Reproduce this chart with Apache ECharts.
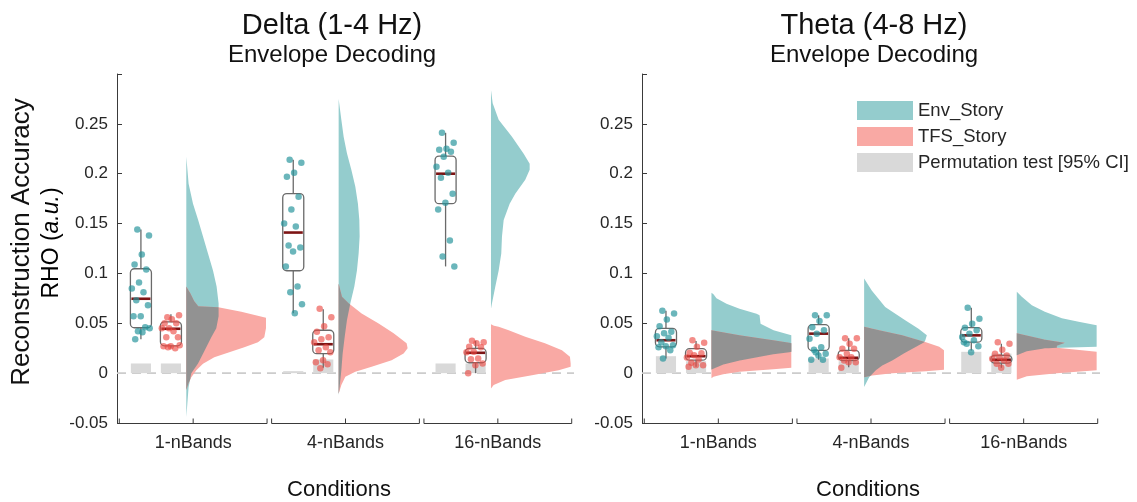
<!DOCTYPE html>
<html><head><meta charset="utf-8">
<script src="https://cdn.jsdelivr.net/npm/echarts@6/dist/echarts.min.js"></script>
<style>html,body{margin:0;padding:0;background:#fff}#c{width:1137px;height:502px}</style>
</head><body><div id="c"></div>
<script>
// ---------------- DATA ----------------
const categories = ['1-nBands', '4-nBands', '16-nBands'];
const panelTitles = ['Delta (1-4 Hz)', 'Theta (4-8 Hz)'];
const panelSubtitles = ['Envelope Decoding', 'Envelope Decoding'];
const seriesNames = ['Env_Story', 'TFS_Story', 'Permutation test [95% CI]'];

// individual subject values (RHO)
const deltaEnvPoints = [
  [0.144,0.138,0.119,0.109,0.104,0.091,0.085,0.081,0.073,0.068,0.057,0.057,0.046,0.042,0.045,0.041,0.034],
  [0.214,0.211,0.201,0.197,0.177,0.164,0.150,0.147,0.128,0.126,0.122,0.107,0.087,0.081,0.069,0.060],
  [0.241,0.231,0.225,0.224,0.222,0.217,0.207,0.201,0.196,0.180,0.171,0.164,0.133,0.117,0.107]
];
const deltaTfsPoints = [
  [0.056,0.058,0.054,0.050,0.050,0.045,0.045,0.042,0.036,0.036,0.027,0.027,0.025,0.026,0.028],
  [0.0645,0.056,0.047,0.0415,0.036,0.034,0.031,0.026,0.023,0.021,0.013,0.011,0.009,0.005],
  [0.0324,0.031,0.030,0.0264,0.026,0.0214,0.021,0.0147,0.014,0.0097,0.008,0.0]
];
const thetaEnvPoints = [
  [0.0625,0.0599,0.0539,0.047,0.0415,0.040,0.037,0.0355,0.031,0.028,0.027,0.026,0.023,0.0147],
  [0.058,0.058,0.0522,0.046,0.043,0.0396,0.0345,0.026,0.0235,0.0195,0.0178,0.0135,0.0135,0.021],
  [0.0657,0.0546,0.0496,0.0456,0.0429,0.0396,0.0362,0.033,0.0295,0.027,0.021,0.031]
];
const thetaTfsPoints = [
  [0.033,0.0304,0.0264,0.0204,0.020,0.018,0.0157,0.0137,0.0104,0.008,0.008,0.0064],
  [0.035,0.035,0.0295,0.0245,0.0245,0.0195,0.016,0.016,0.0127,0.011,0.011,0.0054],
  [0.031,0.0295,0.0235,0.0195,0.0178,0.016,0.0144,0.0127,0.0094,0.0094,0.0054]
];

// box statistics: [lower whisker, Q1, median, Q3, upper whisker]
const deltaEnvBox = [[0.034,0.0455,0.0746,0.1047,0.144],[0.060,0.1027,0.141,0.180,0.214],[0.107,0.170,0.200,0.2177,0.241]];
const deltaTfsBox = [[0.025,0.0274,0.0445,0.0515,0.059],[0.0053,0.0195,0.029,0.043,0.064],[0.0,0.0104,0.0204,0.0248,0.0324]];
const thetaEnvBox = [[0.0147,0.0264,0.033,0.0449,0.0625],[0.0135,0.0228,0.0396,0.0486,0.058],[0.0228,0.0311,0.0379,0.0456,0.0657]];
const thetaTfsBox = [[0.0064,0.013,0.017,0.0245,0.0323],[0.006,0.0127,0.0154,0.0228,0.035],[0.0054,0.010,0.0134,0.0178,0.0295]];

// permutation test upper 95% CI
const deltaEnvPerm = [0.0097, 0.002, 0.0097];
const deltaTfsPerm = [0.0097, 0.0137, 0.0097];
const thetaEnvPerm = [0.017, 0.0147, 0.0214];
const thetaTfsPerm = [0.012, 0.012, 0.0196];

// density profiles read from the half-violins: [RHO, density (a.u.)]
const deltaEnvDensity = [
  [[0.217,0],[0.19,2.3],[0.17,6.7],[0.154,11.7],[0.137,16.7],[0.12,21.7],[0.103,26.7],[0.087,30.3],[0.07,32.3],[0.057,32.3],[0.045,30],[0.036,25],[0.0195,16.7],[0.0097,11.7],[0,5],[-0.014,2.3],[-0.031,1],[-0.044,0]],
  [[0.275,0],[0.254,2.7],[0.237,5],[0.2205,8.3],[0.204,12.7],[0.187,16.7],[0.17,19.3],[0.1535,20.7],[0.137,21],[0.12,20],[0.103,18.3],[0.087,15.7],[0.07,11.7],[0.053,8.3],[0.036,6],[0.0195,4],[0.003,2.7],[-0.014,1],[-0.022,0]],
  [[0.284,0],[0.2706,1.7],[0.254,7.7],[0.237,21],[0.22,32.7],[0.21,38.7],[0.204,38.7],[0.194,34.3],[0.18,24.3],[0.17,18.7],[0.1536,12.7],[0.137,11],[0.12,10.3],[0.103,7.7],[0.0866,4.3],[0.07,1],[0.0647,0]]
];
const deltaTfsDensity = [
  [[0.087,0],[0.08,4],[0.072,8],[0.067,12],[0.066,32],[0.0615,55],[0.0555,80],[0.051,80],[0.045,80],[0.036,78],[0.031,71.7],[0.026,58],[0.021,43],[0.016,28],[0.0095,16.7],[0.003,10],[-0.004,5],[-0.01,2.3],[-0.017,0]],
  [[0.09,0],[0.0766,3.3],[0.07,10],[0.0597,23],[0.0499,40],[0.04,55],[0.03,68],[0.025,69],[0.0197,65],[0.013,53],[0.0063,33],[0.0013,16.7],[-0.0037,6.7],[-0.012,2.7],[-0.0206,0]],
  [[0.049,0],[0.0475,3],[0.0465,7.7],[0.043,17.7],[0.0365,34.3],[0.03,54],[0.023,71],[0.0164,79],[0.0097,80],[0.0063,80],[0.003,67.7],[-0.002,41],[-0.007,14.3],[-0.012,2.7],[-0.0155,0]]
];
const thetaEnvDensity = [
  [[0.0806,0],[0.079,2],[0.075,5],[0.0696,15],[0.0646,28],[0.0596,45],[0.058,48],[0.0496,49],[0.043,62],[0.038,81],[0.03,90],[0.0214,81],[0.019,61.7],[0.0127,28],[0.0087,11.7],[0.0037,0]],
  [[0.0948,0],[0.083,7.6],[0.0663,21],[0.053,41],[0.0446,54.3],[0.038,62.6],[0.0328,61],[0.031,60],[0.0264,51.7],[0.02,40],[0.0127,28],[0.0077,18],[0.003,11.7],[-0.004,5],[-0.014,0]],
  [[0.0816,0],[0.0766,5],[0.068,15],[0.0615,28],[0.055,45],[0.0515,61.7],[0.048,81],[0.0264,81],[0.0249,28],[0.022,10],[0.018,0]]
];
const thetaTfsDensity = [
  [[0.043,0],[0.038,28],[0.033,61.7],[0.03,81],[0.0054,81],[0.004,61.7],[0.0013,28],[-0.001,11.7],[-0.0037,2],[-0.005,0]],
  [[0.0465,0],[0.043,15],[0.038,38],[0.031,61.7],[0.0264,75],[0.023,81],[0.0034,81],[0.002,61.7],[0,28],[-0.0023,8],[-0.004,0]],
  [[0.04,0],[0.0336,28],[0.0304,48],[0.0275,40],[0.0255,40],[0.024,55],[0.0214,81],[0.003,81],[0,40],[-0.003,10],[-0.0066,0]]
];

// ---------------- LAYOUT / STYLE ----------------
const FONT = "'Liberation Sans', Arial, Helvetica, sans-serif";
const Y_MIN = -0.05, Y_MAX = 0.3, Y_STEP = 0.05;
const X_MIN = 0, X_MAX = 3;
const ENV_OFF = 0.157, TFS_OFF = 0.354, VIO_OFF = 0.455;
const BOX_HW = 0.069, PERM_HW = 0.066;
const DENS_SCALE = 1 / 152.4;   // category units per density unit
const VIO_MAX = 0.523;          // clip width of half-violins (category units)
const C_ENV = '#94cccd', C_TFS = '#f9a9a4', C_OVER = '#929292', C_PERM = '#d9d9d9';
const C_ENV_DOT = 'rgba(38,148,156,0.85)', C_TFS_DOT = 'rgba(236,72,66,0.78)';
const AXIS_C = '#3a3a3a', TXT_C = '#262626';

const panels = [
  {env: deltaEnvPoints, tfs: deltaTfsPoints, envBox: deltaEnvBox, tfsBox: deltaTfsBox,
   envPerm: deltaEnvPerm, tfsPerm: deltaTfsPerm, envD: deltaEnvDensity, tfsD: deltaTfsDensity},
  {env: thetaEnvPoints, tfs: thetaTfsPoints, envBox: thetaEnvBox, tfsBox: thetaTfsBox,
   envPerm: thetaEnvPerm, tfsPerm: thetaTfsPerm, envD: thetaEnvDensity, tfsD: thetaTfsDensity}
];

function interp(profile, v) {
  const n = profile.length;
  if (v > profile[0][0] || v < profile[n - 1][0]) return 0;
  for (let i = 0; i < n - 1; i++) {
    const a = profile[i], b = profile[i + 1];
    if (v <= a[0] && v >= b[0]) {
      const t = (a[0] - b[0]) === 0 ? 0 : (a[0] - v) / (a[0] - b[0]);
      return a[1] + (b[1] - a[1]) * t;
    }
  }
  return 0;
}
const wUnits = d => Math.min(d * DENS_SCALE, VIO_MAX);

function violinSeries(name, g, profiles, color, z) {
  return {
    type: 'custom', name, xAxisIndex: g * 2 + 1, yAxisIndex: g, z, silent: true,
    itemStyle: {color},
    data: profiles.map((p, i) => [i + VIO_OFF, 0]),
    encode: {x: 0, y: 1},
    renderItem(params, api) {
      const i = params.dataIndex, prof = profiles[i], base = i + VIO_OFF;
      const pts = [api.coord([base, prof[0][0]])];
      prof.forEach(([v, d]) => pts.push(api.coord([base + wUnits(d), v])));
      pts.push(api.coord([base, prof[prof.length - 1][0]]));
      return {type: 'polygon', shape: {points: pts}, style: {fill: color}};
    }
  };
}

function overlapSeries(g, envP, tfsP, z) {
  return {
    type: 'custom', name: 'overlap', xAxisIndex: g * 2 + 1, yAxisIndex: g, z, silent: true,
    data: envP.map((p, i) => [i + VIO_OFF, 0]),
    encode: {x: 0, y: 1},
    renderItem(params, api) {
      const i = params.dataIndex, e = envP[i], t = tfsP[i], base = i + VIO_OFF;
      const top = Math.min(e[0][0], t[0][0]);
      const bot = Math.max(e[e.length - 1][0], t[t.length - 1][0]);
      if (top <= bot) return null;
      let grid = [];
      e.concat(t).forEach(p => { if (p[0] <= top && p[0] >= bot) grid.push(p[0]); });
      for (let v = top; v >= bot; v -= 0.0005) grid.push(v);
      grid.push(top, bot);
      grid = Array.from(new Set(grid.map(v => Math.round(v * 1e6) / 1e6))).sort((a, b) => b - a);
      const pts = [api.coord([base, top])];
      grid.forEach(v => {
        const w = Math.min(wUnits(interp(e, v)), wUnits(interp(t, v)));
        pts.push(api.coord([base + w, v]));
      });
      pts.push(api.coord([base, bot]));
      return {type: 'polygon', shape: {points: pts}, style: {fill: C_OVER}};
    }
  };
}

function boxSeries(name, g, boxes, off, z) {
  return {
    type: 'custom', name, xAxisIndex: g * 2 + 1, yAxisIndex: g, z, silent: true,
    data: boxes.map((b, i) => [i + off].concat(b)),
    encode: {x: 0, y: [1, 2, 3, 4, 5]},
    renderItem(params, api) {
      const x = api.value(0), lo = api.value(1), q1 = api.value(2), med = api.value(3), q3 = api.value(4), hi = api.value(5);
      const pHi = api.coord([x, hi]), pQ3 = api.coord([x, q3]), pQ1 = api.coord([x, q1]), pLo = api.coord([x, lo]);
      const tl = api.coord([x - BOX_HW, q3]), br = api.coord([x + BOX_HW, q1]);
      const mL = api.coord([x - BOX_HW, med]), mR = api.coord([x + BOX_HW, med]);
      const ls = {stroke: '#6a6a6a', lineWidth: 1.3};
      return {type: 'group', children: [
        {type: 'line', shape: {x1: pHi[0], y1: pHi[1], x2: pQ3[0], y2: pQ3[1]}, style: ls},
        {type: 'line', shape: {x1: pQ1[0], y1: pQ1[1], x2: pLo[0], y2: pLo[1]}, style: ls},
        {type: 'rect', shape: {x: tl[0], y: tl[1], width: br[0] - tl[0], height: br[1] - tl[1], r: 4},
         style: {fill: 'rgba(255,255,255,0)', stroke: '#6a6a6a', lineWidth: 1.3}},
        {type: 'line', shape: {x1: mL[0] + 1, y1: mL[1], x2: mR[0] - 1, y2: mR[1]}, style: {stroke: '#7d1414', lineWidth: 2.6}}
      ]};
    }
  };
}

function permSeries(g, envPerm, tfsPerm, z) {
  const data = envPerm.map((v, i) => [i + ENV_OFF, v]).concat(tfsPerm.map((v, i) => [i + TFS_OFF, v]));
  return {
    type: 'custom', name: 'Permutation test [95% CI]', xAxisIndex: g * 2 + 1, yAxisIndex: g, z, silent: true,
    itemStyle: {color: C_PERM},
    data, encode: {x: 0, y: 1},
    renderItem(params, api) {
      const x = api.value(0), v = api.value(1);
      const a = api.coord([x - PERM_HW, v]), b = api.coord([x + PERM_HW, 0]);
      return {type: 'rect', shape: {x: a[0], y: a[1], width: b[0] - a[0], height: Math.max(b[1] - a[1], 1)}, style: {fill: C_PERM}};
    }
  };
}

function jitter(k) { return (((k * 0.618034 + 0.31) % 1) - 0.5) * 2 * BOX_HW * 0.9; }

function scatterSeries(name, g, pts, off, color, z) {
  const data = [];
  pts.forEach((arr, i) => arr.forEach((v, k) => data.push([i + off + jitter(k), v])));
  return {type: 'scatter', name, xAxisIndex: g * 2 + 1, yAxisIndex: g, z, silent: true,
    symbolSize: 6.5, itemStyle: {color}, data};
}

function bracketSeries(g, z) {
  return {
    type: 'custom', name: 'brackets', xAxisIndex: g * 2 + 1, yAxisIndex: g, z, silent: true,
    data: categories.map((c, i) => [i + 0.5, Y_MIN]), encode: {x: 0, y: 1},
    renderItem(params, api) {
      const x = api.value(0);
      const l = api.coord([x - 0.485, Y_MIN]), m = api.coord([x, Y_MIN]), r = api.coord([x + 0.485, Y_MIN]);
      const st = {stroke: AXIS_C, lineWidth: 1};
      const y = Math.round(l[1]) + 0.5;
      return {type: 'group', children: [
        {type: 'line', shape: {x1: l[0], y1: y, x2: r[0], y2: y}, style: st},
        {type: 'line', shape: {x1: l[0], y1: y, x2: l[0], y2: y - 5}, style: st},
        {type: 'line', shape: {x1: m[0], y1: y, x2: m[0], y2: y - 5}, style: st},
        {type: 'line', shape: {x1: r[0], y1: y, x2: r[0], y2: y - 5}, style: st}
      ]};
    }
  };
}

function zeroLine(g, z) {
  return {type: 'line', name: 'zero', xAxisIndex: g * 2 + 1, yAxisIndex: g, z, silent: true,
    symbol: 'none', data: [[X_MIN, 0], [X_MAX, 0]],
    lineStyle: {color: '#cccccc', width: 1.6, type: [9, 6]}};
}

const grids = [
  {left: 117, top: 74, width: 457, height: 349},
  {left: 642, top: 74, width: 458, height: 349}
];

const xAxes = [], yAxes = [], series = [];
panels.forEach((p, g) => {
  xAxes.push({type: 'category', gridIndex: g, data: categories, boundaryGap: true,
    axisLine: {show: false}, axisTick: {show: false},
    axisLabel: {fontSize: 18, color: TXT_C, fontFamily: FONT, margin: 11}});
  xAxes.push({type: 'value', gridIndex: g, min: X_MIN, max: X_MAX, show: false});
  yAxes.push({type: 'value', gridIndex: g, min: Y_MIN, max: Y_MAX, interval: Y_STEP,
    axisLine: {show: true, lineStyle: {color: AXIS_C, width: 1}},
    axisTick: {show: true, inside: true, length: 5, lineStyle: {color: AXIS_C}},
    splitLine: {show: false},
    axisLabel: {fontSize: 17, color: TXT_C, fontFamily: FONT, margin: 9,
      formatter: v => { const r = Math.round(v * 100) / 100; return r >= 0.3 ? '' : String(r); }}});
  series.push(zeroLine(g, 1));
  series.push(permSeries(g, p.envPerm, p.tfsPerm, 2));
  series.push(violinSeries('Env_Story', g, p.envD, C_ENV, 3));
  series.push(violinSeries('TFS_Story', g, p.tfsD, C_TFS, 4));
  series.push(overlapSeries(g, p.envD, p.tfsD, 5));
  series.push(boxSeries('envBox', g, p.envBox, ENV_OFF, 6));
  series.push(boxSeries('tfsBox', g, p.tfsBox, TFS_OFF, 6));
  series.push(scatterSeries('envPts', g, p.env, ENV_OFF, C_ENV_DOT, 7));
  series.push(scatterSeries('tfsPts', g, p.tfs, TFS_OFF, C_TFS_DOT, 7));
  series.push(bracketSeries(g, 8));
});

const titleStyle = {fontSize: 29, fontWeight: 'normal', color: '#111', fontFamily: FONT};
const subStyle = {fontSize: 24, color: '#111', fontFamily: FONT};
const option = {
  backgroundColor: '#fff',
  animation: false,
  title: [
    {text: panelTitles[0], subtext: panelSubtitles[0], left: 327, top: 6, textAlign: 'center', itemGap: 3,
     textStyle: titleStyle, subtextStyle: subStyle},
    {text: panelTitles[1], subtext: panelSubtitles[1], left: 869, top: 6, textAlign: 'center', itemGap: 3,
     textStyle: titleStyle, subtextStyle: subStyle}
  ],
  legend: {data: seriesNames, orient: 'vertical', left: 852, top: 96, itemWidth: 56, itemHeight: 19,
    itemGap: 7, icon: 'rect', selectedMode: false,
    textStyle: {fontSize: 18.5, color: TXT_C, fontFamily: FONT}},
  grid: grids,
  xAxis: xAxes,
  yAxis: yAxes,
  series,
  graphic: [
    {type: 'text', x: 22, y: 242, rotation: Math.PI / 2,
     style: {text: 'Reconstruction Accuracy', font: '26px ' + FONT, fill: '#111', align: 'center', verticalAlign: 'middle'}},
    {type: 'text', x: 52, y: 243, rotation: Math.PI / 2,
     style: {text: '{n|RHO (}{i|a.u.}{n|)}', align: 'center', verticalAlign: 'middle',
       rich: {n: {fontSize: 23, fontFamily: FONT, color: '#111'}, i: {fontSize: 23, fontFamily: FONT, fontStyle: 'italic', color: '#111'}}}},
    {type: 'text', x: 339, y: 490, style: {text: 'Conditions', font: '22px ' + FONT, fill: '#111', align: 'center', verticalAlign: 'middle'}},
    {type: 'text', x: 868, y: 490, style: {text: 'Conditions', font: '22px ' + FONT, fill: '#111', align: 'center', verticalAlign: 'middle'}}
  ]
};

const chart = echarts.init(document.getElementById('c'), null, {renderer: 'canvas'});
chart.setOption(option);
</script>
</body></html>
